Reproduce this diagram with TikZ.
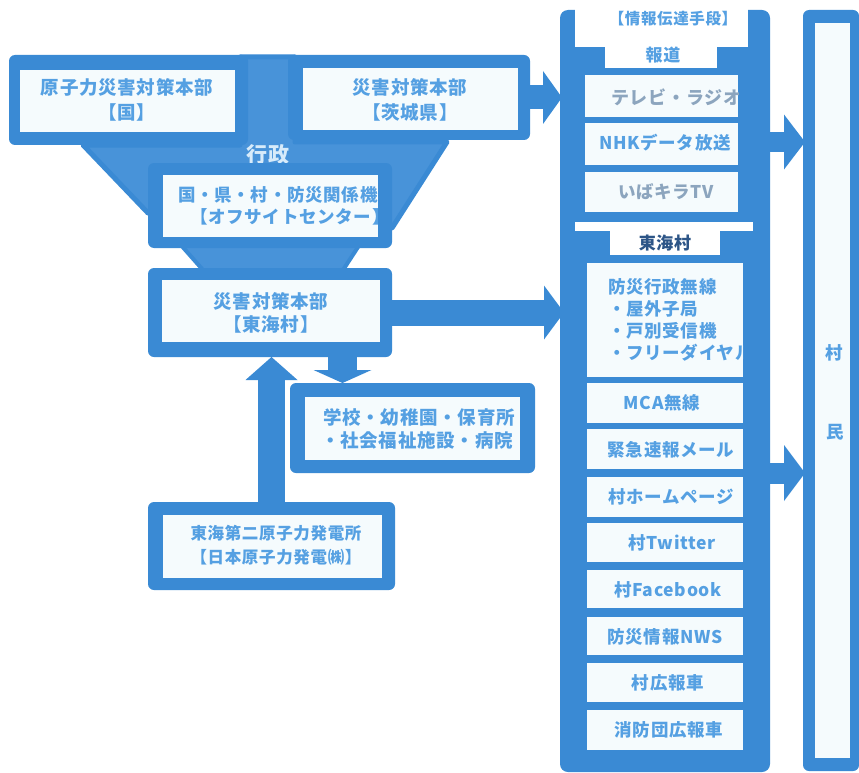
\documentclass[tikz,border=0pt]{standalone}
\usepackage{fontspec}
\newfontfamily\jp{Noto Sans CJK JP}[LetterSpace=4]
\usetikzlibrary{fit,arrows.meta}
\definecolor{fblue}{RGB}{58,138,212}
\definecolor{funnelc}{RGB}{72,147,217}
\definecolor{wbox}{RGB}{245,251,253}
\definecolor{tblue}{RGB}{85,160,226}
\definecolor{tgray}{RGB}{140,165,190}
\definecolor{tdark}{RGB}{45,85,135}
\definecolor{tlight}{RGB}{215,235,250}
\begin{document}
\begin{tikzpicture}[x=1pt,y=-1pt,
  ob/.style={fill=fblue, rounded corners=6pt, inner sep=0pt, outer sep=0pt},
  ib/.style={fill=wbox, inner sep=0pt, outer sep=0pt},
  wn/.style={fill=white, inner sep=0pt, outer sep=0pt},
  txt/.style={font=\jp\bfseries\fontsize{18.5}{25}\selectfont, text=tblue, inner sep=0pt, align=center},
  rtxt/.style={font=\jp\bfseries\fontsize{17.5}{22}\selectfont, text=tblue, inner sep=0pt, align=center},
  barrow/.style args={#1/#2/#3}{draw=fblue, line width=#1, -{Triangle[width=#2, length=#3, line width=0pt]}}
]
\useasboundingbox (0,0) rectangle (859,773);
\fill[white] (0,0) rectangle (859,773);

% funnel shapes
\fill[funnelc, draw=fblue, line width=5pt, line join=round]
  (240,57) -- (295,57) -- (295,142) -- (447,142) -- (392,228) -- (148,213) -- (83,145) -- (240,145) -- cycle;
\fill[funnelc, draw=fblue, line width=4pt, line join=round]
  (180,244) -- (360,244) -- (343,270) -- (203,270) -- cycle;

% left boxes
\node[ob, fit={(9,55) (248,145)}] (kuniO) {};
\node[ib, fit={(20,70) (235,132)}] (kuniI) {};
\node[txt] (kuniT) at (127,100) {原子力災害対策本部\\【国】};

\node[ob, fit={(288,55) (530,140)}] (prefO) {};
\node[ib, fit={(303,68) (518,130)}] (prefI) {};
\node[txt] (prefT) at (410,100) {災害対策本部\\【茨城県】};

\node[txt, text=tlight, font=\jp\bfseries\fontsize{21}{24}\selectfont] (gyosei) at (268,155) {行政};

\node[ob, fit={(148,163) (392,248)}] (offO) {};
\node[ib, fit={(163,175) (378,237)}] (offI) {};
\begin{scope}
  \clip (offI.south west) rectangle (offI.north east);
  \node[txt, font=\jp\bfseries\fontsize{17.5}{22}\selectfont, anchor=west] (offA) at (178,195) {国・県・村・防災関係機関};
  \node[txt, font=\jp\bfseries\fontsize{17.5}{22}\selectfont, anchor=west] (offB) at (190,217) {【オフサイトセンター】};
\end{scope}

\node[ob, fit={(148,268) (392,357)}] (tokaiO) {};
\node[ib, fit={(162,280) (380,342)}] (tokaiI) {};
\node[txt, font=\jp\bfseries\fontsize{18.5}{23}\selectfont] (tokaiT) at (271,313) {災害対策本部\\【東海村】};

\node[ob, fit={(290,383) (535,473)}] (schoolO) {};
\node[ib, fit={(305,397) (520,460)}] (schoolI) {};
\begin{scope}
  \clip (schoolI.south west) rectangle (schoolI.north east);
  \node[txt, font=\jp\bfseries\fontsize{18.5}{22}\selectfont, anchor=west] (schA) at (323,417) {学校・幼稚園・保育所};
  \node[txt, font=\jp\bfseries\fontsize{18.5}{22}\selectfont, anchor=west] (schB) at (321,440) {・社会福祉施設・病院};
\end{scope}

\node[ob, fit={(148,502) (395,590)}] (plantO) {};
\node[ib, fit={(163,515) (382,578)}] (plantI) {};
\node[txt, font=\jp\bfseries\fontsize{16.5}{24}\selectfont] (plantT) at (276,545) {東海第二原子力発電所\\【日本原子力発電㈱】};

% right column
\node[ob, rounded corners=8pt, fit={(560,10) (770,772)}] (colO) {};
\node[wn, fit={(575,0) (748,47)}] (titleN) {};
\node[txt, font=\jp\bfseries\fontsize{15.5}{20}\selectfont] (titleT) at (673,19) {【情報伝達手段】};
\node[wn, fit={(605,46) (717,68)}] (hodoN) {};
\node[txt, font=\jp\bfseries\fontsize{17}{20}\selectfont] (hodoT) at (663,55) {報道};
\node[wn, fit={(575,222) (753,231)}] (sepN) {};
\node[wn, fit={(610,230) (720,255)}] (tokaiN) {};
\node[txt, text=tdark, font=\jp\bfseries\fontsize{17}{20}\selectfont] (tokaiLbl) at (665,243) {東海村};

\node[ib, fit={(585,75) (738,117)}] (tvB) {};
\begin{scope}
  \clip (tvB.south west) rectangle (tvB.north east);
  \node[rtxt, text=tgray, anchor=west, font=\jp\bfseries\fontsize{18}{22}\selectfont] (tvT) at (611,97) {テレビ・ラジオ};
\end{scope}
\node[ib, fit={(585,123) (738,165)}] (nhkB) {};
\node[rtxt] (nhkT) at (665,143) {NHKデータ放送};
\node[ib, fit={(585,172) (738,212)}] (ibaB) {};
\node[rtxt, text=tgray] (ibaT) at (666,192) {いばキラTV};

\node[ib, fit={(587,263) (743,377)}] (bwB) {};
\begin{scope}
  \clip (bwB.south west) rectangle (bwB.north east);
  \node[rtxt, align=left, anchor=west, font=\jp\bfseries\fontsize{17.5}{22}\selectfont] (bwT) at (608,320) {防災行政無線\\・屋外子局\\・戸別受信機\\・フリーダイヤル};
\end{scope}
\node[ib, fit={(587,383) (743,423)}] (mcaB) {};
\node[rtxt] (mcaT) at (662,403) {MCA無線};
\node[ib, fit={(587,429) (743,469)}] (mailB) {};
\node[rtxt] (mailT) at (671,450) {緊急速報メール};
\node[ib, fit={(587,477) (743,517)}] (hpB) {};
\node[rtxt] (hpT) at (671,497) {村ホームページ};
\node[ib, fit={(587,523) (743,562)}] (twB) {};
\node[rtxt] (twT) at (672,543) {村Twitter};
\node[ib, fit={(587,570) (743,608)}] (fbB) {};
\node[rtxt] (fbT) at (668,590) {村Facebook};
\node[ib, fit={(587,617) (743,655)}] (nwsB) {};
\node[rtxt] (nwsT) at (665,637) {防災情報NWS};
\node[ib, fit={(587,663) (743,702)}] (carB) {};
\node[rtxt] (carT) at (668,683) {村広報車};
\node[ib, fit={(587,710) (743,750)}] (fireB) {};
\node[rtxt] (fireT) at (669,730) {消防団広報車};

% villagers column
\node[ob, fit={(803,10) (859,771)}] (muraO) {};
\node[ib, fit={(815,23) (850,758)}] (muraI) {};
\node[rtxt] (muraA) at (834,353) {村};
\node[rtxt] (muraB) at (835,432) {民};

% arrows
\draw[barrow={24pt/53pt/19pt}] (prefO.east) -- ([xshift=2pt]prefO.east -| colO.west);
\draw[barrow={26pt/54pt/20pt}] (tokaiO.east) -- ([xshift=4pt]tokaiO.east -| colO.west);
\draw[barrow={29pt/58pt/13pt}] ([xshift=-70pt]schoolO.north |- tokaiO.south) -- ([xshift=-70pt]schoolO.north);
\draw[barrow={27pt/52pt/23pt}] (plantO.north) -- (plantO.north |- tokaiO.south);
\coordinate (r1) at (763,142);
\coordinate (r2) at (763,473);
\draw[barrow={20pt/55pt/21pt}] (r1) -- ([xshift=2pt]r1 -| muraO.west);
\draw[barrow={21pt/56pt/21pt}] (r2) -- ([xshift=2pt]r2 -| muraO.west);
\end{tikzpicture}
\end{document}
